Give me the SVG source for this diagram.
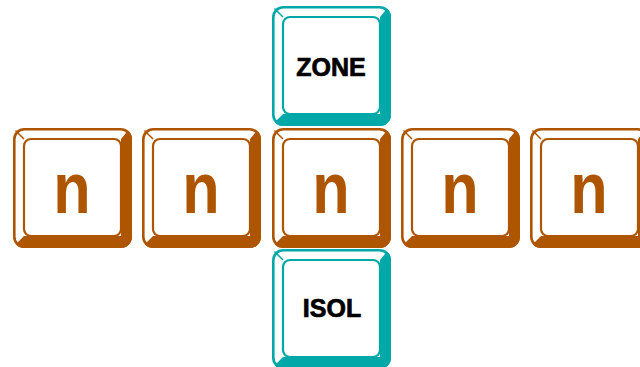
<svg xmlns="http://www.w3.org/2000/svg" xmlns:xlink="http://www.w3.org/1999/xlink" width="640" height="367" viewBox="0 0 640 367">
<style>
.brown{color:#AD5500}
.teal{color:#00A8A8}
.n{font-family:"Liberation Sans",Arial,sans-serif;font-weight:bold;font-size:72px;fill:#AD5500;text-anchor:middle}
.lbl{font-family:"Liberation Sans",Arial,sans-serif;font-weight:bold;font-size:25px;fill:#000;stroke:#000;stroke-width:0.7;text-anchor:middle}
</style>
<defs>
<clipPath id="kc" clipPathUnits="userSpaceOnUse">
<rect x="0" y="0" width="119" height="120" rx="11"/>
</clipPath>
<symbol id="key" overflow="visible">
<rect x="1.3" y="1.3" width="116.4" height="117.4" rx="10" fill="#fff" stroke="currentColor" stroke-width="2.6"/>
<path d="M108,11 L117,0 L121,0 L121,122 L0,122 L0,119 L11,108 L108,108 Z" fill="currentColor" clip-path="url(#kc)"/>
<line x1="2.5" y1="2.5" x2="11" y2="11" stroke="currentColor" stroke-width="1.5"/>
<rect x="11" y="11" width="97" height="97" rx="7" fill="#fff" stroke="currentColor" stroke-width="2.2"/>
</symbol>
</defs>
<g id="connectors"/>
<g id="key-zone" class="teal">
<use xlink:href="#key" x="272" y="6"/>
<text class="lbl" x="331" y="76">ZONE</text>
</g>
<g id="key-n1" class="brown">
<use xlink:href="#key" x="13" y="128"/>
<text class="n" transform="translate(72,213) scale(0.85,1)">n</text>
</g>
<g id="key-n2" class="brown">
<use xlink:href="#key" x="142" y="128"/>
<text class="n" transform="translate(201,213) scale(0.85,1)">n</text>
</g>
<g id="key-n3" class="brown">
<use xlink:href="#key" x="272" y="128"/>
<text class="n" transform="translate(331,213) scale(0.85,1)">n</text>
</g>
<g id="key-n4" class="brown">
<use xlink:href="#key" x="401" y="128"/>
<text class="n" transform="translate(460,213) scale(0.85,1)">n</text>
</g>
<g id="key-n5" class="brown">
<use xlink:href="#key" x="530" y="128"/>
<text class="n" transform="translate(589,213) scale(0.85,1)">n</text>
</g>
<g id="key-isol" class="teal">
<use xlink:href="#key" x="272" y="249"/>
<text class="lbl" x="332" y="317">ISOL</text>
</g>
</svg>
